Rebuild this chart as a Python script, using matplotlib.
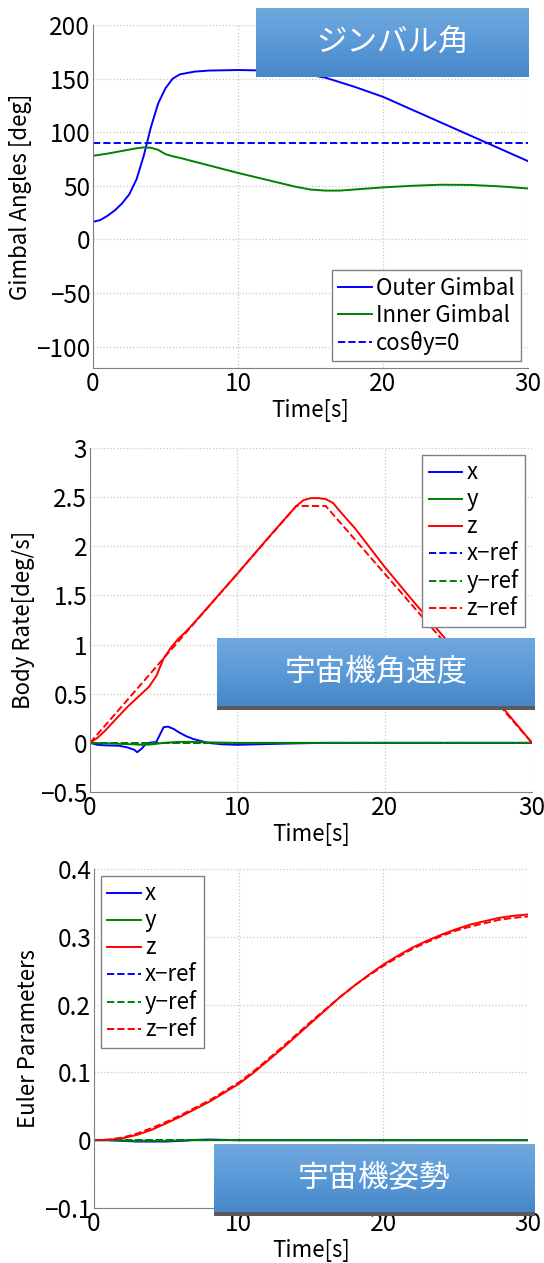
import numpy as np
import matplotlib
matplotlib.use('Agg')
import matplotlib.pyplot as plt
from matplotlib.ticker import FuncFormatter
from matplotlib.colors import LinearSegmentedColormap

plt.rcParams['font.family'] = ['Noto Sans CJK JP', 'DejaVu Sans']
plt.rcParams['axes.unicode_minus'] = True

############## datos: angulos de gimbal #########
t_gim = [0, 0.5, 1, 1.5, 2, 2.5, 3, 3.5, 4, 4.5, 5, 5.5, 6, 7, 8, 10, 12, 14, 16, 18, 20, 22, 24, 26, 28, 30]
outer = [16.4, 18, 22, 27, 33.5, 42, 56, 78, 105, 127, 141, 150, 154, 156.5, 157.5, 158, 157.5, 155.5, 151, 142.5, 133, 121, 109, 97, 85, 73]
t_inner = [0, 1, 2, 3, 3.5, 4, 4.5, 5, 5.5, 6, 8, 10, 12, 14, 15, 16, 17, 18, 20, 22, 24, 26, 28, 30]
inner = [78, 80, 82.5, 85, 85.8, 85.5, 83.5, 79.5, 77.5, 76, 69, 62, 55.5, 49, 46.5, 45.5, 45.5, 46.5, 48.5, 50, 51, 50.8, 49.5, 47.5]
cos_zero = [90, 90]
t_cos = [0, 30]

############## datos: velocidad angular #########
t_rz = [0, 0.5, 1, 1.5, 2, 2.5, 3, 3.5, 4, 4.5, 5, 5.5, 6, 6.5, 7, 8, 10, 12, 14, 14.5, 15, 15.5, 16, 16.5, 17, 18, 20, 22, 24, 26, 28, 30]
rate_z = [0, 0.05, 0.12, 0.2, 0.28, 0.36, 0.43, 0.5, 0.57, 0.68, 0.86, 0.97, 1.06, 1.13, 1.21, 1.38, 1.72, 2.07, 2.41, 2.47, 2.49, 2.49, 2.48, 2.44, 2.35, 2.18, 1.79, 1.43, 1.08, 0.72, 0.36, 0]
t_rzref = [0, 14, 16, 30]
rate_zref = [0, 2.41, 2.41, 0]
t_rx = [0, 0.5, 1, 2, 2.5, 3, 3.2, 3.5, 3.8, 4, 4.5, 4.8, 5, 5.3, 5.7, 6, 6.5, 7, 7.5, 8, 9, 10, 12, 14, 16, 30]
rate_x = [0, -0.02, -0.025, -0.03, -0.045, -0.07, -0.095, -0.06, -0.01, 0.0, 0.01, 0.1, 0.16, 0.165, 0.14, 0.11, 0.07, 0.04, 0.02, 0.0, -0.015, -0.02, -0.012, -0.005, 0, 0]
t_ry = [0, 1, 2, 3, 3.5, 4, 4.5, 5, 6, 7, 8, 10, 30]
rate_y = [0, -0.005, -0.01, -0.015, -0.02, -0.018, -0.01, 0.0, 0.01, 0.01, 0.005, 0.0, 0]
t_ref0 = [0, 30]
rate_xref = [0, 0]
rate_yref = [0, 0]

############## datos: parametros de Euler #########
t_q = list(range(0, 31))
q_z = [0, 0.0005, 0.003, 0.008, 0.0155, 0.025, 0.035, 0.046, 0.057, 0.070, 0.083, 0.099, 0.117, 0.135, 0.154, 0.173,
       0.192, 0.211, 0.228, 0.244, 0.259, 0.272, 0.284, 0.294, 0.303, 0.311, 0.318, 0.323, 0.328, 0.331, 0.333]
q_zref = [0, 0.001, 0.004, 0.010, 0.018, 0.027, 0.037, 0.048, 0.059, 0.072, 0.085, 0.101, 0.119, 0.137, 0.156, 0.175,
          0.193, 0.211, 0.228, 0.243, 0.257, 0.270, 0.282, 0.292, 0.301, 0.309, 0.315, 0.320, 0.325, 0.328, 0.330]
t_qs = [0, 1, 2, 3, 4, 5, 6, 7, 8, 9, 10, 30]
q_x = [0, 0, -0.001, -0.002, -0.002, -0.002, -0.001, 0.0005, 0.001, 0.0005, 0, 0]
q_y = [0, 0, -0.0005, -0.001, -0.001, -0.001, -0.0005, 0, 0, 0, 0, 0]
q_xref = [0, 0]
q_yref = [0, 0]

W, H = 544, 1263
fig = plt.figure(figsize=(W / 100, H / 100), dpi=100)
FS = 16
TFS = 17.5
gray = '#808080'
fmt = FuncFormatter(lambda v, p: ('%g' % v).replace('-', '\u2212'))


def make_ax(l, r, t, b, ylab, ylab_x):
    ax = fig.add_axes([l / W, 1 - b / H, (r - l) / W, (b - t) / H])
    ax.spines['top'].set_visible(False)
    ax.spines['right'].set_visible(False)
    for s in ['left', 'bottom']:
        ax.spines[s].set_color(gray)
    ax.grid(True, linestyle=':', color='#c8c8c8', linewidth=0.9)
    ax.tick_params(direction='in', length=0, labelsize=TFS, pad=2)
    ax.xaxis.set_major_formatter(fmt)
    ax.yaxis.set_major_formatter(fmt)
    ax.set_xlim(0, 30)
    ax.set_xticks([0, 10, 20, 30])
    ax.set_xlabel('Time[s]', fontsize=FS)
    ax.set_ylabel(ylab, fontsize=FS)
    ax.yaxis.set_label_coords(ylab_x, 0.5)
    ax.xaxis.set_label_coords(0.5, -0.09)
    return ax


def banner(x0, y0, x1, y1, text, stripe):
    bx = fig.add_axes([x0 / W, 1 - y1 / H, (x1 - x0) / W, (y1 - y0) / H])
    cmap = LinearSegmentedColormap.from_list('bn', ['#70a8de', '#5b9ad8', '#4787c8'])
    bx.imshow(np.linspace(0, 1, 64).reshape(-1, 1), aspect='auto', cmap=cmap, extent=[0, 1, 0, 1])
    bx.text(0.5, 0.5, text, color='white', ha='center', va='center', fontsize=22)
    bx.axis('off')
    if stripe:
        sx = fig.add_axes([x0 / W, 1 - (y1 + 4) / H, (x1 - x0) / W, 4 / H])
        sx.set_facecolor('#5a5a5a')
        sx.set_xticks([])
        sx.set_yticks([])
        for s in sx.spines.values():
            s.set_visible(False)


lw = 1.4
leg_kw = dict(fontsize=FS, fancybox=False, edgecolor=gray, framealpha=1, handlelength=1.5,
              handletextpad=0.2, labelspacing=0.18, borderaxespad=0.3, borderpad=0.3)

############## grafico 1 #########
ax1 = make_ax(93, 528, 25, 368, 'Gimbal Angles [deg]', -0.14)
ax1.plot(t_gim, outer, color='#0000ff', lw=lw, label='Outer Gimbal')
ax1.plot(t_inner, inner, color='#008000', lw=lw, label='Inner Gimbal')
ax1.plot(t_cos, cos_zero, color='#0000ff', lw=lw, ls='--', label='cos\u03b8y=0')
ax1.set_ylim(-120, 200)
ax1.set_yticks([-100, -50, 0, 50, 100, 150, 200])
ax1.legend(loc='lower right', **leg_kw)

############## grafico 2 #########
ax2 = make_ax(90, 532, 448, 792, 'Body Rate[deg/s]', -0.125)
ax2.plot(t_rx, rate_x, color='#0000ff', lw=lw, label='x')
ax2.plot(t_ry, rate_y, color='#008000', lw=lw, label='y')
ax2.plot(t_rz, rate_z, color='#ff0000', lw=lw, label='z')
ax2.plot(t_ref0, rate_xref, color='#0000ff', lw=lw, ls='--', label='x\u2212ref')
ax2.plot(t_ref0, rate_yref, color='#008000', lw=lw, ls='--', label='y\u2212ref')
ax2.plot(t_rzref, rate_zref, color='#ff0000', lw=lw, ls='--', label='z\u2212ref')
ax2.set_ylim(-0.5, 3)
ax2.set_yticks([-0.5, 0, 0.5, 1, 1.5, 2, 2.5, 3])
ax2.legend(loc='upper right', **leg_kw)

############## grafico 3 #########
ax3 = make_ax(94, 528, 869, 1208, 'Euler Parameters', -0.125)
ax3.plot(t_qs, q_x, color='#0000ff', lw=lw, label='x')
ax3.plot(t_qs, q_y, color='#008000', lw=lw, label='y')
ax3.plot(t_q, q_z, color='#ff0000', lw=lw, label='z')
ax3.plot(t_ref0, q_xref, color='#0000ff', lw=lw, ls='--', label='x\u2212ref')
ax3.plot(t_ref0, q_yref, color='#008000', lw=lw, ls='--', label='y\u2212ref')
ax3.plot(t_q, q_zref, color='#ff0000', lw=lw, ls='--', label='z\u2212ref')
ax3.set_ylim(-0.1, 0.4)
ax3.set_yticks([-0.1, 0, 0.1, 0.2, 0.3, 0.4])
ax3.legend(loc='upper left', **leg_kw)

############## banners #########
banner(256, 8, 529, 77, 'ジンバル角', False)
banner(217, 638, 535, 706, '宇宙機角速度', True)
banner(214, 1144, 535, 1212, '宇宙機姿勢', True)

fig.savefig('out.png', dpi=100)
